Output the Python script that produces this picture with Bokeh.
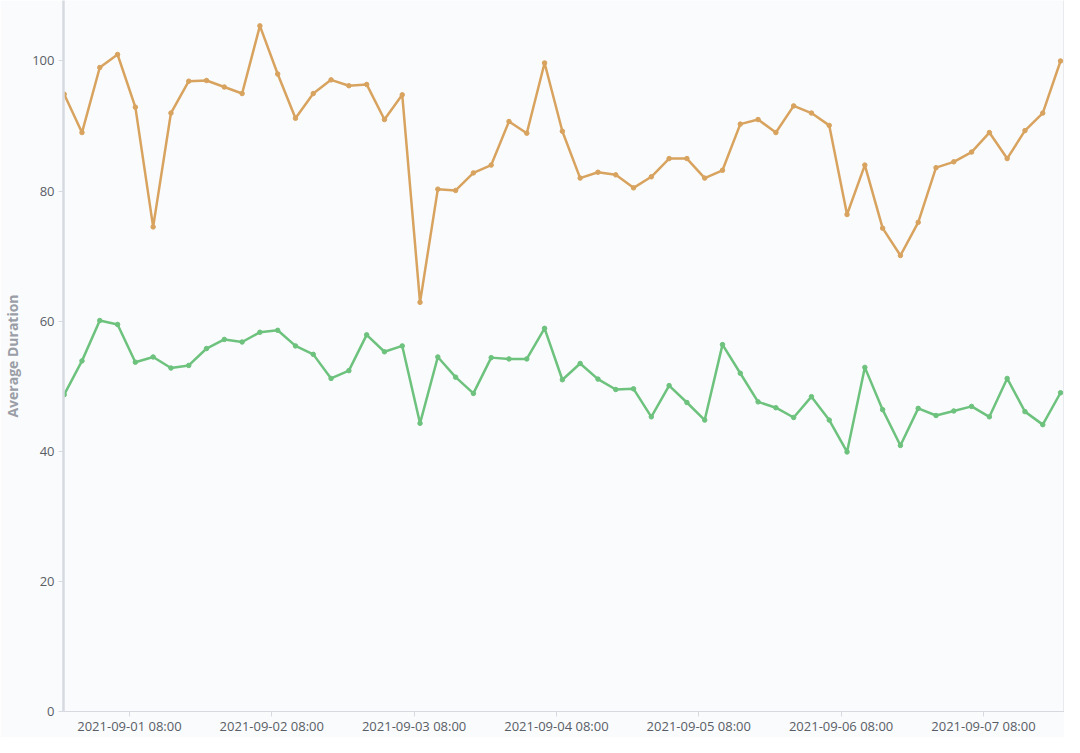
import datetime as dt
from bokeh.plotting import figure
from bokeh.models import Range1d, FixedTicker, DatetimeTickFormatter, LinearAxis, ColumnDataSource
from bokeh.embed import file_html
from bokeh.resources import INLINE

# ---- data ----
start_time = dt.datetime(2021, 8, 31, 21, 0)
step_hours = 3

series_orange = [94.9, 89.0, 99.0, 101.0, 92.9, 74.5, 92.0, 96.9, 97.0, 96.0,
                 95.0, 105.4, 98.0, 91.2, 95.0, 97.1, 96.2, 96.4, 91.0, 94.8,
                 62.9, 80.3, 80.1, 82.8, 84.0, 90.7, 88.9, 99.7, 89.2, 82.0,
                 82.9, 82.5, 80.5, 82.2, 85.0, 85.0, 82.0, 83.2, 90.3, 91.0,
                 89.0, 93.1, 92.0, 90.1, 76.4, 84.0, 74.3, 70.1, 75.2, 83.6,
                 84.5, 86.0, 89.0, 85.0, 89.3, 92.0, 100.0]

series_green = [48.7, 53.9, 60.1, 59.5, 53.7, 54.5, 52.8, 53.2, 55.8, 57.2,
                56.8, 58.3, 58.6, 56.2, 54.9, 51.2, 52.4, 57.9, 55.3, 56.2,
                44.3, 54.5, 51.4, 48.9, 54.4, 54.2, 54.2, 58.9, 51.0, 53.5,
                51.1, 49.5, 49.6, 45.3, 50.1, 47.5, 44.8, 56.4, 52.0, 47.6,
                46.7, 45.2, 48.4, 44.8, 39.9, 52.9, 46.4, 40.9, 46.6, 45.5,
                46.2, 46.9, 45.3, 51.2, 46.1, 44.1, 49.0]

x_tick_labels = ["2021-09-01 08:00", "2021-09-02 08:00", "2021-09-03 08:00",
                 "2021-09-04 08:00", "2021-09-05 08:00", "2021-09-06 08:00",
                 "2021-09-07 08:00"]
y_ticks = [0, 20, 40, 60, 80, 100]
y_axis_title = "Average Duration"

times = [start_time + dt.timedelta(hours=step_hours * i) for i in range(len(series_orange))]
epoch = dt.datetime(1970, 1, 1)
def to_ms(d):
    return (d - epoch).total_seconds() * 1000.0
x_ticks_ms = [to_ms(dt.datetime.strptime(s, "%Y-%m-%d %H:%M")) for s in x_tick_labels]

src = ColumnDataSource(dict(t=times, orange=series_orange, green=series_green))

BG = "#fafbfd"
ORANGE = "#d8a35f"
GREEN = "#6dc27d"
AXIS = "#d6dae0"
TICKTXT = "#595e66"
FONT = "Open Sans"

p = figure(width=1064, height=737, x_axis_type="datetime",
           output_backend="svg", toolbar_location=None,
           x_range=Range1d(times[0] - dt.timedelta(minutes=7), times[-1] + dt.timedelta(minutes=40)),
           y_range=Range1d(0, 109.3),
           min_border_left=0, min_border_right=0, min_border_top=0, min_border_bottom=0)

p.background_fill_color = BG
p.border_fill_color = BG
p.outline_line_color = None
p.xgrid.visible = False
p.ygrid.visible = False

p.line("t", "orange", source=src, line_width=2.5, color=ORANGE)
p.scatter("t", "orange", source=src, size=4.5, color=ORANGE)
p.line("t", "green", source=src, line_width=2.5, color=GREEN)
p.scatter("t", "green", source=src, size=4.5, color=GREEN)

xa = p.xaxis[0]
xa.ticker = FixedTicker(ticks=x_ticks_ms)
fmt = "%Y-%m-%d %H:%M"
xa.formatter = DatetimeTickFormatter(milliseconds=fmt, seconds=fmt, minsec=fmt, minutes=fmt,
                                     hourmin=fmt, hours=fmt, days=fmt, months=fmt, years=fmt)
xa.minor_tick_line_color = None
xa.major_tick_out = 5
xa.major_tick_in = 0
xa.major_tick_line_color = AXIS
xa.axis_line_color = AXIS
xa.axis_line_width = 1
xa.major_label_text_font = FONT
xa.major_label_text_font_size = "13px"
xa.major_label_text_color = TICKTXT
xa.major_label_standoff = 0

ya = p.yaxis[0]
ya.ticker = FixedTicker(ticks=y_ticks)
ya.minor_tick_line_color = None
ya.major_tick_out = 5
ya.major_tick_in = 0
ya.major_tick_line_color = AXIS
ya.axis_line_color = AXIS
ya.axis_line_width = 2.5
ya.major_label_text_font = FONT
ya.major_label_text_font_size = "13px"
ya.major_label_text_color = TICKTXT
ya.major_label_standoff = 4
ya.axis_label = y_axis_title
ya.axis_label_text_font = FONT
ya.axis_label_text_font_size = "14px"
ya.axis_label_text_font_style = "bold"
ya.axis_label_text_color = "#9a9ea6"
ya.axis_label_standoff = 7

ra = LinearAxis(ticker=FixedTicker(ticks=[]), axis_line_color=AXIS, axis_line_width=2,
                major_tick_line_color=None, minor_tick_line_color=None,
                major_label_text_font_size="0px")
p.add_layout(ra, "right")

open("out.html", "w").write(file_html(p, INLINE))
